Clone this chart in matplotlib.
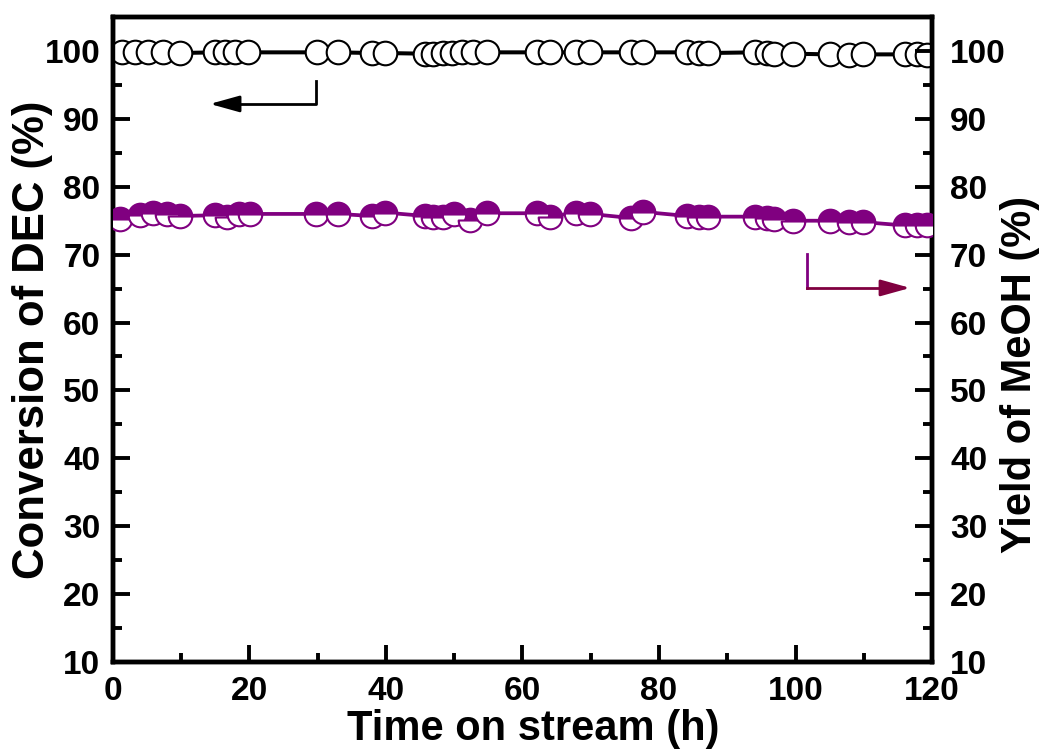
import matplotlib
matplotlib.use("Agg")
import matplotlib.pyplot as plt
from matplotlib import font_manager

# ---------------- data ----------------
time_conv = [1.3, 3.2, 5.1, 7.3, 9.8, 15.0, 16.4, 17.9, 19.8, 29.9, 32.9, 37.9, 39.9,
             45.7, 46.9, 48.4, 49.7, 51.1, 52.7, 54.8,
             62.1, 64.0, 67.9, 69.9, 75.9, 77.7, 84.1, 85.8, 87.2, 94.1, 95.8, 96.8, 99.7,
             105.0, 107.9, 109.9, 116.0, 117.8, 119.2]
conversion = [99.8, 99.8, 99.8, 99.8, 99.7, 99.8, 99.8, 99.8, 99.8, 99.8, 99.8, 99.7, 99.7,
              99.6, 99.6, 99.7, 99.7, 99.8, 99.8, 99.8,
              99.8, 99.8, 99.8, 99.8, 99.8, 99.8, 99.8, 99.7, 99.7, 99.8, 99.7, 99.6, 99.6,
              99.5, 99.4, 99.5, 99.5, 99.5, 99.4]

time_yield = [1.0, 4.0, 5.9, 7.9, 9.8, 14.9, 16.7, 18.4, 20.1, 29.8, 33.0, 37.9, 39.9,
              45.7, 46.9, 48.4, 49.9, 52.3, 54.8,
              62.1, 64.0, 67.9, 69.9, 75.9, 77.7, 84.1, 85.8, 87.2, 94.1, 95.8, 96.8, 99.7,
              105.0, 107.9, 109.9, 116.0, 117.8, 119.2]
yield_meoh = [75.2, 75.8, 76.2, 76.0, 75.7, 75.8, 75.5, 76.0, 76.0, 76.0, 76.0, 75.7, 76.2,
              75.7, 75.5, 75.5, 76.0, 75.1, 76.1,
              76.1, 75.6, 76.2, 76.0, 75.4, 76.3, 75.7, 75.6, 75.6, 75.6, 75.4, 75.3, 75.0,
              75.0, 74.8, 74.8, 74.3, 74.3, 74.4]

x_ticks = [0, 20, 40, 60, 80, 100, 120]
y_ticks = [10, 20, 30, 40, 50, 60, 70, 80, 90, 100]

# ---------------- fonts ----------------
names = {f.name for f in font_manager.fontManager.ttflist}
base_font = "Liberation Sans" if "Liberation Sans" in names else "DejaVu Sans"
narrow_font = "Liberation Sans Narrow" if "Liberation Sans Narrow" in names else base_font
narrow_size = 36 if narrow_font != base_font else 30
plt.rcParams["font.family"] = [base_font, "DejaVu Sans"]
plt.rcParams["font.weight"] = "bold"

purple = "#800080"
maroon = "#800040"

fig = plt.figure(figsize=(10.43, 7.54), dpi=100)
ax = fig.add_axes([0.1083, 0.1220, 0.7853, 0.8554])
ax2 = ax.twinx()

ax.plot(time_conv, conversion, color="black", lw=2.9, marker="o", ms=17,
        mfc="white", mec="black", mew=1.5, clip_on=True, zorder=3)
ax2.plot(time_yield, yield_meoh, color=purple, lw=2.7, marker="o", ms=17,
         fillstyle="top", mfc=purple, mfcalt="white", mec=purple, mew=1.5,
         clip_on=True, zorder=3)

for a in (ax, ax2):
    a.set_xlim(0, 120)
    a.set_ylim(10, 105)
    a.set_yticks(y_ticks)
    a.set_yticks(range(15, 105, 10), minor=True)
    for s in a.spines.values():
        s.set_linewidth(3.2)
ax.set_xticks(x_ticks)
ax.set_xticks(range(10, 120, 20), minor=True)

ax.tick_params(axis="x", which="both", direction="in", top=False, width=2.8,
               labelsize=24, pad=10)
ax.tick_params(axis="x", which="major", length=12)
ax.tick_params(axis="x", which="minor", length=6.5)
ax.tick_params(axis="y", which="both", direction="in", width=2.8, labelsize=24, pad=9)
ax.tick_params(axis="y", which="major", length=12)
ax.tick_params(axis="y", which="minor", length=6.5)
ax2.tick_params(axis="y", which="both", direction="in", width=2.8, labelsize=24, pad=13)
ax2.tick_params(axis="y", which="major", length=12)
ax2.tick_params(axis="y", which="minor", length=6.5)
for lab in ax.get_xticklabels() + ax.get_yticklabels() + ax2.get_yticklabels():
    lab.set_fontweight("bold")

ax.set_ylabel("Conversion of DEC (%)", fontsize=31.5, fontweight="bold")
ax.yaxis.set_label_coords(-0.073, 0.5)

fig.text(0.5115, 0.0186, "Time on stream (h)", ha="center", va="baseline",
         fontsize=narrow_size, fontweight="bold", family=[narrow_font, "DejaVu Sans"])
fig.text(0.978, 0.503, "Yield of MeOH (%)", ha="center", va="center", rotation=90,
         fontsize=narrow_size, fontweight="bold", family=[narrow_font, "DejaVu Sans"])

# arrows
ax.plot([29.7, 29.7, 16.0], [95.6, 92.2, 92.2], color="black", lw=2.0, zorder=4)
ax.annotate("", xy=(14.2, 92.2), xytext=(17.5, 92.2),
            arrowprops=dict(arrowstyle="-|>,head_length=0.9,head_width=0.25",
                            mutation_scale=20, color="black", lw=2.0, shrinkA=0, shrinkB=0))
ax2.plot([101.7, 101.7], [70.1, 65.1], color=purple, lw=2.0, zorder=4)
ax2.plot([101.7, 115.0], [65.1, 65.1], color=maroon, lw=2.0, zorder=4)
ax2.annotate("", xy=(116.8, 65.1), xytext=(113.5, 65.1),
             arrowprops=dict(arrowstyle="-|>,head_length=0.9,head_width=0.25",
                             mutation_scale=20, color=maroon, lw=2.0, shrinkA=0, shrinkB=0))

fig.savefig("out.png", dpi=100)
